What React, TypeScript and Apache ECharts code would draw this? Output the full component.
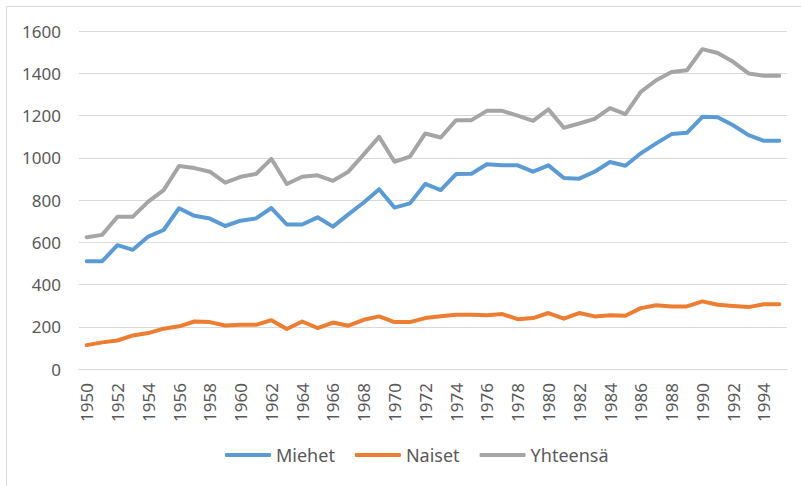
import React, { useEffect, useRef } from "react";
import * as echarts from "echarts";

const years: string[] = [];
for (let y = 1950; y <= 1995; y++) years.push(String(y));

const miehet = [
  510, 510, 586, 564, 627, 658, 761, 725, 712, 677, 702, 713, 762, 684, 684,
  718, 674, 732, 788, 851, 764, 784, 876, 847, 923, 924, 969, 964, 964, 934,
  964, 904, 901, 934, 980, 962, 1021, 1068, 1112, 1118, 1194, 1192, 1154, 1107, 1080, 1080,
];
const naiset = [
  113, 126, 135, 159, 170, 191, 202, 225, 222, 206, 209, 209, 231, 189, 225,
  194, 220, 205, 233, 249, 222, 222, 241, 250, 257, 257, 255, 260, 236, 241,
  265, 238, 265, 249, 254, 252, 288, 302, 296, 296, 320, 304, 298, 293, 307, 307,
];
const yhteensa = [
  624, 635, 721, 721, 792, 847, 961, 951, 934, 882, 910, 923, 995, 876, 910,
  917, 891, 934, 1016, 1099, 981, 1005, 1115, 1096, 1178, 1178, 1222, 1222, 1199, 1175,
  1229, 1142, 1162, 1184, 1235, 1206, 1312, 1367, 1406, 1414, 1514, 1496, 1454, 1399, 1388, 1388,
];

const seriesNames = ["Miehet", "Naiset", "Yhteensä"];
const colors = ["#5B9BD5", "#ED7D31", "#A5A5A5"];

export default function App() {
  const ref = useRef<HTMLDivElement>(null);
  useEffect(() => {
    if (!ref.current) return;
    const chart = echarts.init(ref.current, null, { renderer: "svg" });
    const font = "'Noto Sans', sans-serif";
    const datasets = [miehet, naiset, yhteensa];
    chart.setOption({
      animation: false,
      backgroundColor: "#ffffff",
      color: colors,
      graphic: [
        {
          type: "rect",
          shape: { x: 6.5, y: 6.5, width: 800, height: 490 },
          style: { fill: "none", stroke: "#d9d9d9", lineWidth: 1 },
          silent: true,
        },
      ],
      grid: { left: 79, right: 14, top: 31, bottom: 117, containLabel: false },
      legend: {
        left: 220,
        top: 441,
        itemWidth: 46,
        itemHeight: 4,
        itemGap: 20,
        itemTextGap: 4,
        icon: "roundRect",
        textStyle: { fontFamily: font, fontSize: 18, color: "#595959" },
        data: seriesNames,
      },
      xAxis: {
        type: "category",
        data: years,
        boundaryGap: true,
        axisLine: { show: true, lineStyle: { color: "#d9d9d9", width: 1 } },
        axisTick: { show: false },
        axisLabel: {
          interval: 1,
          rotate: 90,
          margin: 14,
          fontFamily: font,
          fontSize: 17,
          color: "#595959",
        },
      },
      yAxis: {
        type: "value",
        min: 0,
        max: 1600,
        interval: 200,
        axisLine: { show: false },
        axisTick: { show: false },
        splitLine: { lineStyle: { color: "#d9d9d9", width: 1 } },
        axisLabel: {
          margin: 18,
          fontFamily: font,
          fontSize: 17,
          color: "#595959",
          formatter: (v: number) => String(v),
        },
      },
      series: seriesNames.map((name, i) => ({
        name,
        type: "line",
        data: datasets[i],
        symbol: "none",
        lineStyle: { width: 4, color: colors[i], cap: "round", join: "round" },
        itemStyle: { color: colors[i] },
      })),
    });
    return () => chart.dispose();
  }, []);
  return (
    <div
      ref={ref}
      style={{ position: "absolute", left: 0, top: 0, width: 801, height: 486 }}
    />
  );
}
